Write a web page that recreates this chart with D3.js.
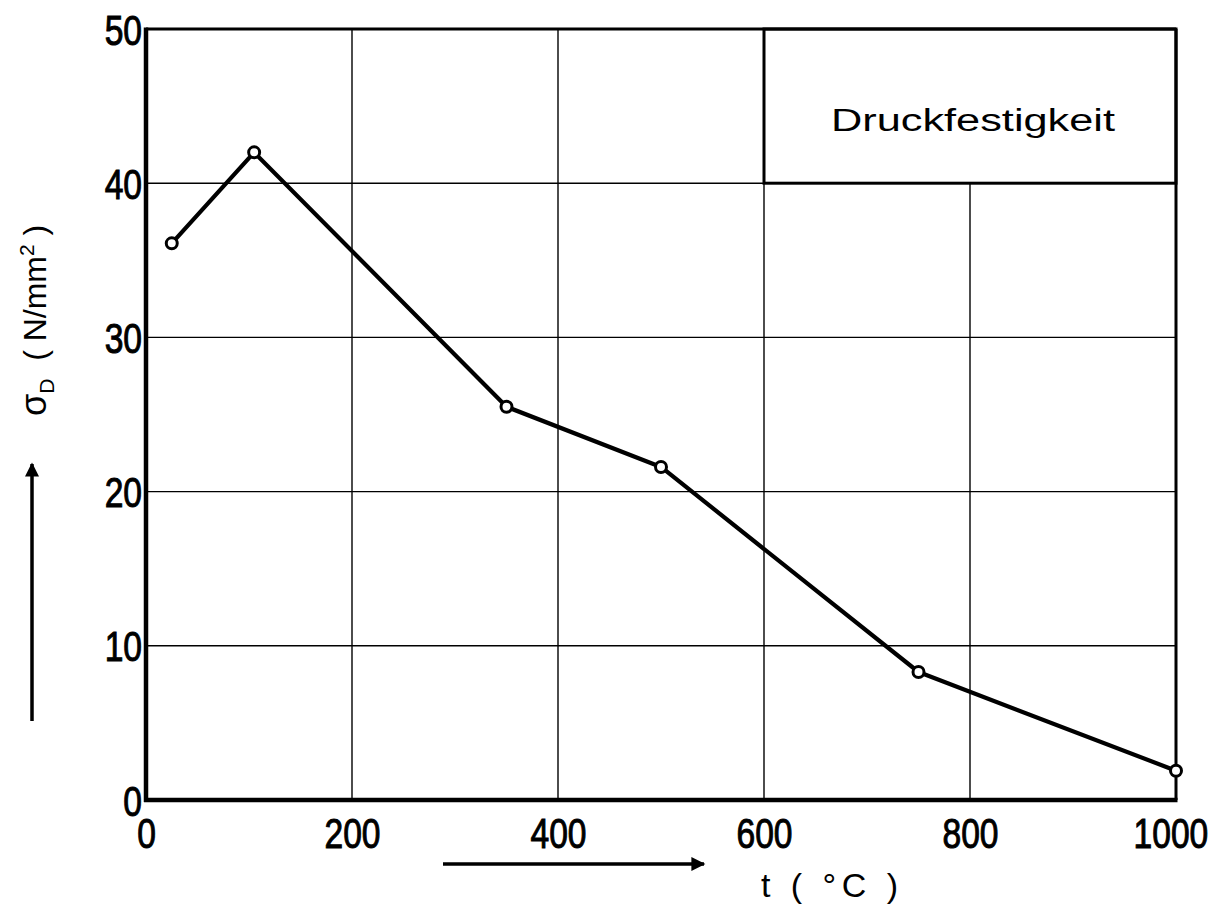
<!DOCTYPE html>
<html>
<head>
<meta charset="utf-8">
<script src="https://cdn.jsdelivr.net/npm/d3@7"></script>
<style>
  html, body { margin: 0; padding: 0; background: #fff; }
  svg { display: block; }
  text { font-family: "Liberation Sans", Arial, sans-serif; fill: #000; }
</style>
</head>
<body>
<script>
// temperature in deg C, compressive strength in N/mm2
var temps = [25, 105, 350, 500, 750, 1000];
var strength = [36.1, 42.0, 25.5, 21.6, 8.3, 1.9];
var xTicks = [0, 200, 400, 600, 800, 1000];
var yTicks = [0, 10, 20, 30, 40, 50];
var boxLabel = 'Druckfestigkeit';

var width = 1213, height = 907;
var svg = d3.select('body').append('svg')
    .attr('width', width)
    .attr('height', height);

var x = d3.scaleLinear().domain([0, 1000]).range([146, 1176]);
var y = d3.scaleLinear().domain([0, 50]).range([800, 29]);

// grid
var grid = svg.append('g').attr('stroke', '#000').attr('stroke-width', 1.4);
grid.selectAll('line.v')
    .data(xTicks.filter(function(d) { return d > 0 && d < 1000; }))
    .enter().append('line')
    .attr('x1', function(d) { return x(d); })
    .attr('x2', function(d) { return x(d); })
    .attr('y1', y(0))
    .attr('y2', function(d) { return d > 600 ? y(40) : y(50); });
grid.selectAll('line.h')
    .data(yTicks.filter(function(d) { return d > 0 && d < 50; }))
    .enter().append('line')
    .attr('x1', x(0))
    .attr('x2', x(1000))
    .attr('y1', function(d) { return y(d); })
    .attr('y2', function(d) { return y(d); });

// legend box in the top right cell
svg.append('rect')
    .attr('x', x(600))
    .attr('y', y(50))
    .attr('width', x(1000) - x(600))
    .attr('height', y(40) - y(50))
    .attr('fill', '#fff')
    .attr('stroke', '#000')
    .attr('stroke-width', 3);
svg.append('text')
    .attr('x', 831)
    .attr('y', 131)
    .attr('font-size', 31)
    .attr('textLength', 284)
    .attr('lengthAdjust', 'spacingAndGlyphs')
    .text(boxLabel);

// frame
var frame = svg.append('g').attr('fill', 'none').attr('stroke', '#000');
frame.append('line').attr('x1', x(0)).attr('x2', x(1000)).attr('y1', y(50)).attr('y2', y(50)).attr('stroke-width', 3);
frame.append('line').attr('x1', x(1000)).attr('x2', x(1000)).attr('y1', y(50)).attr('y2', y(0)).attr('stroke-width', 3);
frame.append('line').attr('x1', x(0)).attr('x2', x(0)).attr('y1', y(50) - 1.5).attr('y2', y(0) + 2).attr('stroke-width', 4.5);
frame.append('line').attr('x1', x(0) - 2).attr('x2', x(1000) + 1.5).attr('y1', y(0)).attr('y2', y(0)).attr('stroke-width', 4.5);

// tick labels (narrow lettering, squeezed horizontally, slightly heavier)
var xAxis = d3.axisBottom(x).tickValues(xTicks).tickSize(0).tickPadding(0)
    .tickFormat(d3.format('d'));
var gx = svg.append('g').attr('transform', 'translate(0,' + (y(0) + 40) + ')').call(xAxis);
gx.select('.domain').remove();
gx.selectAll('text').attr('font-size', 42).attr('font-family', null)
    .attr('stroke', '#000').attr('stroke-width', 1)
    .attr('dy', '0.2em')
    .attr('dx', function(d) { return d === 1000 ? -7 : 0; })
    .attr('transform', 'scale(0.8,1)');

var yAxis = d3.axisLeft(y).tickValues(yTicks).tickSize(0).tickPadding(0)
    .tickFormat(d3.format('d'));
var gy = svg.append('g').attr('transform', 'translate(' + (x(0) - 4) + ',0)').call(yAxis);
gy.select('.domain').remove();
gy.selectAll('text').attr('font-size', 42).attr('font-family', null)
    .attr('stroke', '#000').attr('stroke-width', 1)
    .attr('dy', '0.36em').attr('transform', 'scale(0.8,1)');

// data line
var line = d3.line()
    .x(function(d) { return x(d[0]); })
    .y(function(d) { return y(d[1]); });
var pts = d3.zip(temps, strength);
svg.append('path')
    .datum(pts)
    .attr('d', line)
    .attr('fill', 'none')
    .attr('stroke', '#000')
    .attr('stroke-width', 4.2)
    .attr('stroke-linejoin', 'round');
svg.selectAll('circle.pt')
    .data(pts)
    .enter().append('circle')
    .attr('cx', function(d) { return x(d[0]); })
    .attr('cy', function(d) { return y(d[1]); })
    .attr('r', 5.5)
    .attr('fill', '#fff')
    .attr('stroke', '#000')
    .attr('stroke-width', 3);

// arrows
var defs = svg.append('defs');
defs.append('marker')
    .attr('id', 'head')
    .attr('viewBox', '0 0 10 10')
    .attr('refX', 9).attr('refY', 5)
    .attr('markerWidth', 5).attr('markerHeight', 4)
    .attr('markerUnits', 'strokeWidth')
    .attr('orient', 'auto')
    .append('path').attr('d', 'M0,0L10,5L0,10Z').attr('fill', '#000');

svg.append('line')
    .attr('x1', 443).attr('y1', 864).attr('x2', 704).attr('y2', 864)
    .attr('stroke', '#000').attr('stroke-width', 3.5)
    .attr('marker-end', 'url(#head)');
svg.append('line')
    .attr('x1', 32).attr('y1', 721).attr('x2', 32).attr('y2', 464)
    .attr('stroke', '#000').attr('stroke-width', 3.5)
    .attr('marker-end', 'url(#head)');

// axis titles
svg.append('text')
    .attr('x', 761).attr('y', 897)
    .attr('font-size', 34)
    .attr('xml:space', 'preserve')
    .attr('textLength', 137)
    .attr('lengthAdjust', 'spacing')
    .text('t ( \u00b0C )');

var yt = svg.append('text')
    .attr('transform', 'translate(46,416) rotate(-90)')
    .attr('font-size', 32)
    .attr('xml:space', 'preserve');
yt.append('tspan').attr('font-size', 36).text('\u03c3');
yt.append('tspan').attr('font-size', 21).attr('dy', 8).text('D');
yt.append('tspan').attr('dy', -8).text('  ( N/mm');
yt.append('tspan').attr('font-size', 21).attr('dy', -12).text('2');
yt.append('tspan').attr('dy', 12).text(' )');
</script>
</body>
</html>
